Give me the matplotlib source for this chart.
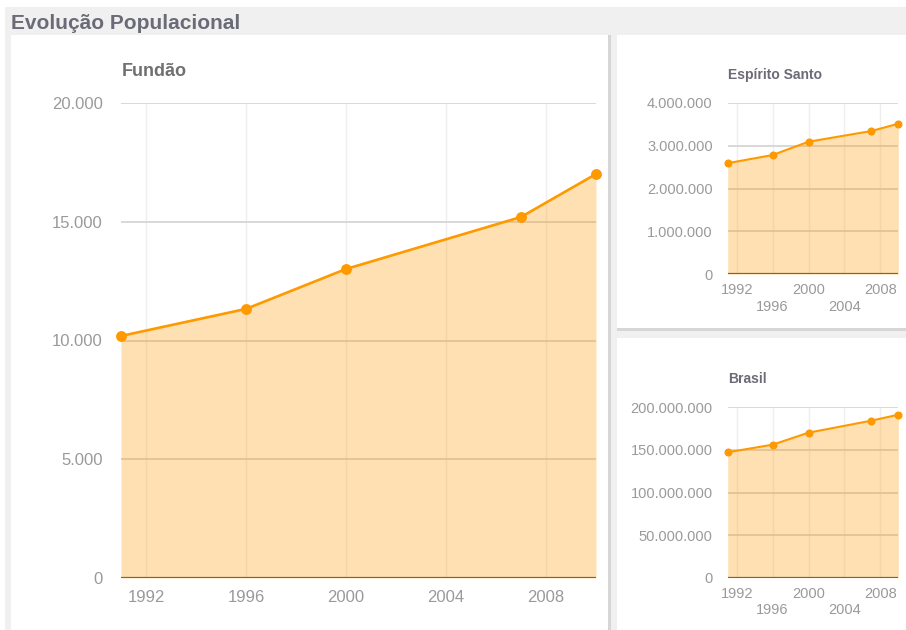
import matplotlib
matplotlib.use("Agg")
import matplotlib.pyplot as plt
from matplotlib.patches import Rectangle
from matplotlib.ticker import FuncFormatter

plt.rcParams['font.family'] = ['Liberation Sans', 'DejaVu Sans']

years = [1991, 1996, 2000, 2007, 2010]
fundao = [10190, 11330, 13010, 15200, 17010]
espirito_santo = [2590000, 2780000, 3090000, 3340000, 3510000]
brasil = [147200000, 156100000, 170200000, 184300000, 191300000]

x_ticks = [1992, 1996, 2000, 2004, 2008]
x_labels_main = ['1992', '1996', '2000', '2004', '2008']
x_labels_small = ['1992', '\n1996', '2000', '\n2004', '2008']

main_title = 'Evolução Populacional'
titles = ['Fundão', 'Espírito Santo', 'Brasil']

W, H = 906, 630
fig = plt.figure(figsize=(W / 100, H / 100), dpi=100)
fig.patch.set_facecolor('white')


def rect(x0, y0, x1, y1, color, z=0):
    r = Rectangle((x0 / W, 1 - y1 / H), (x1 - x0) / W, (y1 - y0) / H,
                  transform=fig.transFigure, facecolor=color, edgecolor='none', zorder=z)
    fig.add_artist(r)


# background panels
rect(5, 7, 906, 630, '#f0f0f0', -10)
rect(11, 35, 608, 630, 'white', -9)
rect(608, 35, 611, 630, '#d6d6d6', -9)
rect(617, 35, 906, 328, 'white', -9)
rect(617, 328, 906, 331, '#d6d6d6', -9)
rect(617, 338, 906, 630, 'white', -9)

fig.text(11 / W, 1 - 29 / H, main_title, fontsize=15, fontweight='bold',
         color='#6b6b78', va='baseline', ha='left')

LINE = '#ff9900'
FILL = '#ff9900'
TICKC = '#9a9a9a'


def fmt(v, pos):
    return f"{int(round(v)):,}".replace(',', '.')


def make_axes(px_left, px_top, px_right, px_bottom):
    return fig.add_axes([px_left / W, 1 - px_bottom / H,
                         (px_right - px_left) / W, (px_bottom - px_top) / H])


def draw(ax, vals, ymax, ystep, small, title, title_xy):
    ax.set_facecolor('none')
    ax.set_xlim(1991, 2010)
    ax.set_ylim(0, ymax)
    for s in ax.spines.values():
        s.set_visible(False)
    yt = [i * ystep for i in range(int(round(ymax / ystep)) + 1)]
    ax.set_yticks(yt)
    ax.yaxis.set_major_formatter(FuncFormatter(fmt))
    ax.set_xticks(x_ticks)
    ax.set_xticklabels(x_labels_small if small else x_labels_main)
    fs = 10.5 if small else 12
    ax.tick_params(axis='both', length=0, labelsize=fs, colors=TICKC)
    ax.tick_params(axis='y', pad=10.8 if small else 13)
    ax.tick_params(axis='x', pad=6.5 if small else 8.5)
    for xv in x_ticks:
        ax.axvline(xv, color='#efefef', lw=1.0, zorder=1)
    for yv in yt[1:]:
        ax.axhline(yv, color='#d8d8d8', lw=1.4, zorder=1)
    ax.fill_between(years, vals, 0, color=FILL, alpha=0.3, lw=0, zorder=2)
    ax.plot(years, vals, color=LINE, lw=1.5 if small else 1.9,
            marker='o', ms=4.8 if small else 6.8, zorder=4, clip_on=False)
    ax.axhline(0, color='#6e665a', lw=1.6, zorder=3)
    fig.text(title_xy[0] / W, 1 - title_xy[1] / H, title,
             fontsize=10 if small else 13, fontweight='bold',
             color='#6b6b78' if small else '#707070', va='baseline', ha='left')


ax1 = make_axes(121, 103, 596, 578)
draw(ax1, fundao, 20000, 5000, False, titles[0], (122, 76))

ax2 = make_axes(727.7, 102.7, 898.3, 274.3)
draw(ax2, espirito_santo, 4000000, 1000000, True, titles[1], (728, 79))

ax3 = make_axes(727.7, 407.3, 898.3, 577.7)
draw(ax3, brasil, 200000000, 50000000, True, titles[2], (728, 383))

fig.savefig('out.png', dpi=100, facecolor=fig.get_facecolor())
